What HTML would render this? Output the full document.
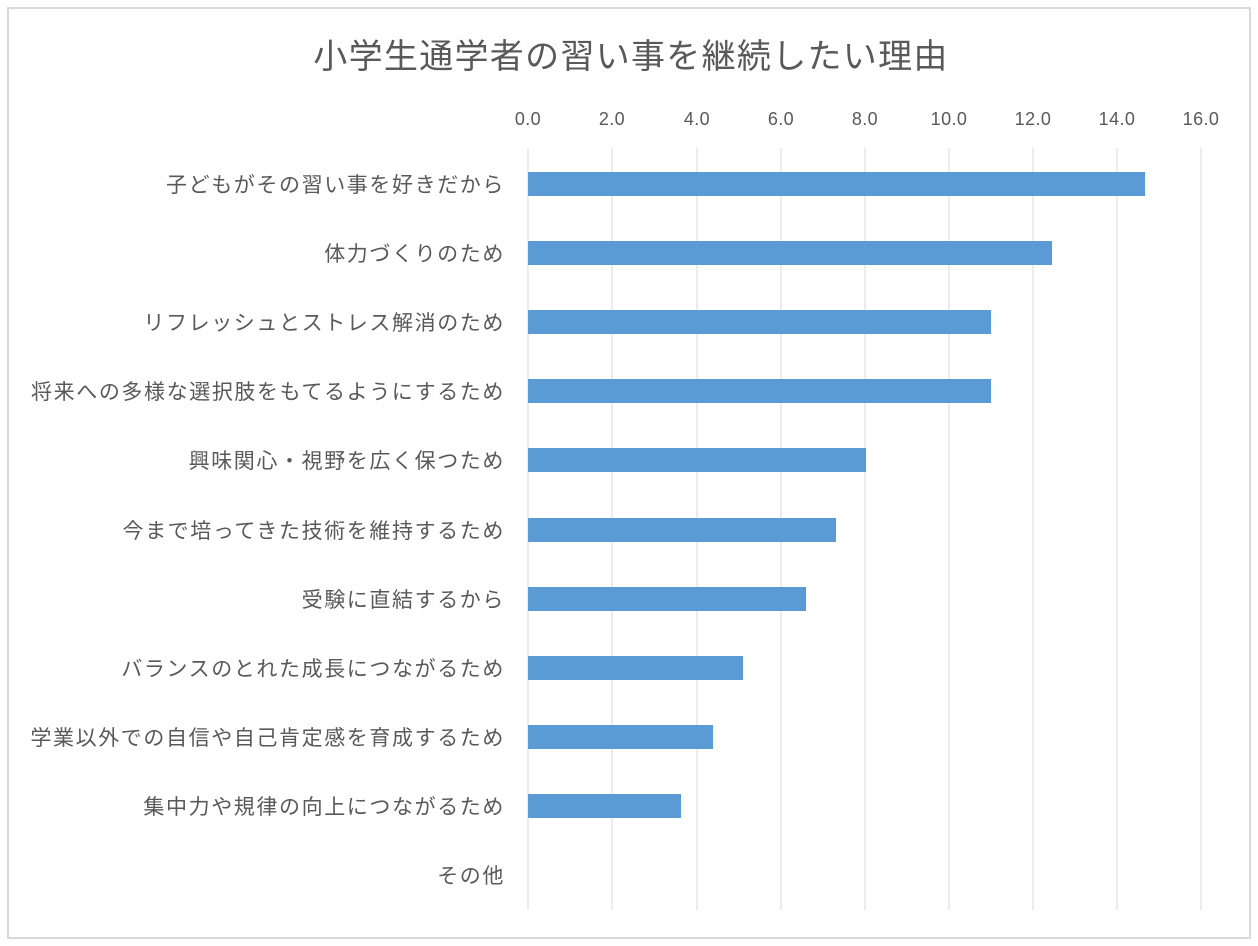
<!DOCTYPE html>
<html><head><meta charset="utf-8"><style>
html,body{margin:0;padding:0;background:#fff;width:1258px;height:946px;overflow:hidden}
svg text{font-family:"Liberation Sans","Noto Sans CJK JP",sans-serif;fill:#595959}
</style></head><body>
<svg width="1258" height="946" xmlns="http://www.w3.org/2000/svg">
<rect x="8" y="8" width="1242" height="930" fill="#fff" stroke="#d9d9d9" stroke-width="2"/>
<text x="631" y="68" font-size="34" letter-spacing="1.3" text-anchor="middle">小学生通学者の習い事を継続したい理由</text>
<g stroke="#d9d9d9" stroke-width="1">
<line x1="528" y1="148" x2="528" y2="910"/>
<line x1="612" y1="148" x2="612" y2="910"/>
<line x1="697" y1="148" x2="697" y2="910"/>
<line x1="781" y1="148" x2="781" y2="910"/>
<line x1="865" y1="148" x2="865" y2="910"/>
<line x1="949" y1="148" x2="949" y2="910"/>
<line x1="1033" y1="148" x2="1033" y2="910"/>
<line x1="1117" y1="148" x2="1117" y2="910"/>
<line x1="1201" y1="148" x2="1201" y2="910"/>
</g>
<g font-size="18" letter-spacing="0.4" text-anchor="middle">
<text x="528" y="125">0.0</text><text x="612" y="125">2.0</text><text x="697" y="125">4.0</text>
<text x="781" y="125">6.0</text><text x="865" y="125">8.0</text><text x="949" y="125">10.0</text>
<text x="1033" y="125">12.0</text><text x="1117" y="125">14.0</text><text x="1201" y="125">16.0</text>
</g>
<g fill="#5b9bd5">
<rect x="528" y="172" width="617" height="24"/>
<rect x="528" y="241" width="524" height="24"/>
<rect x="528" y="310" width="463" height="24"/>
<rect x="528" y="379" width="463" height="24"/>
<rect x="528" y="448" width="338" height="24"/>
<rect x="528" y="518" width="308" height="24"/>
<rect x="528" y="587" width="278" height="24"/>
<rect x="528" y="656" width="215" height="24"/>
<rect x="528" y="725" width="185" height="24"/>
<rect x="528" y="794" width="153" height="24"/>
</g>
<g font-size="21" letter-spacing="1.6" text-anchor="end">
<text x="505" y="192">子どもがその習い事を好きだから</text>
<text x="505" y="261">体力づくりのため</text>
<text x="505" y="330">リフレッシュとストレス解消のため</text>
<text x="505" y="399">将来への多様な選択肢をもてるようにするため</text>
<text x="505" y="468">興味関心・視野を広く保つため</text>
<text x="505" y="538">今まで培ってきた技術を維持するため</text>
<text x="505" y="607">受験に直結するから</text>
<text x="505" y="676">バランスのとれた成長につながるため</text>
<text x="505" y="745">学業以外での自信や自己肯定感を育成するため</text>
<text x="505" y="814">集中力や規律の向上につながるため</text>
<text x="505" y="883">その他</text>
</g>
</svg>
</body></html>
